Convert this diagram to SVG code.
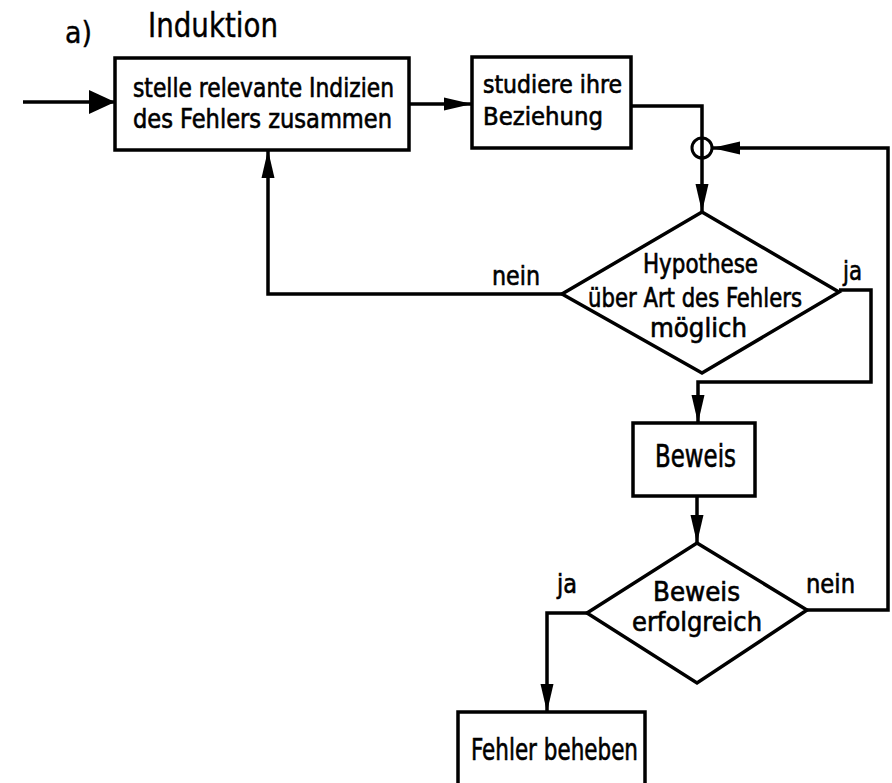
<svg xmlns="http://www.w3.org/2000/svg" width="892" height="783" viewBox="0 0 892 783">
  <style>
    .box { fill: #fff; stroke: #000; stroke-width: 3.5; }
    .wire { fill: none; stroke: #000; stroke-width: 3.5; stroke-linejoin: miter; }
    .t { font-family: "DejaVu Sans Condensed", "DejaVu Sans", sans-serif; font-size: 27px; fill: #000; stroke: #000; stroke-width: 0.6; }
    .h { font-family: "DejaVu Sans Condensed", "DejaVu Sans", sans-serif; font-size: 34px; fill: #000; stroke: #000; stroke-width: 0.4; }
    .s25 { font-size: 25px; }
    .s26 { font-size: 26px; }
    .s30 { font-size: 30px; }
    .s32 { font-size: 32px; }
  </style>
  <defs>
    <marker id="arrow" markerUnits="userSpaceOnUse" markerWidth="30" markerHeight="14" refX="28" refY="7" orient="auto">
      <path d="M0,0.5 L28,7 L0,13.5 z" fill="#000"/>
    </marker>
    <marker id="arrowBig" markerUnits="userSpaceOnUse" markerWidth="28" markerHeight="26" refX="26" refY="13" orient="auto">
      <path d="M0,1 L26,13 L0,25 z" fill="#000"/>
    </marker>
  </defs>

  <rect width="892" height="783" fill="#fff"/>

  <!-- heading -->
  <text class="h s30" x="65" y="43" textLength="27" lengthAdjust="spacingAndGlyphs">a)</text>
  <text class="h" x="148" y="37" textLength="130" lengthAdjust="spacingAndGlyphs">Induktion</text>

  <!-- connectors -->
  <g id="connectors">
    <line class="wire" x1="23" y1="102" x2="115" y2="102" stroke-width="5" marker-end="url(#arrowBig)"/>
    <line class="wire" x1="409" y1="104" x2="472" y2="104" marker-end="url(#arrow)"/>
    <polyline class="wire" points="631,106 702,106 702,212" marker-end="url(#arrow)"/>
    <circle cx="702" cy="148" r="10" fill="none" stroke="#000" stroke-width="3"/>
    <!-- nein: back to collecting clues -->
    <polyline class="wire" points="562,294 268,294 268,150" marker-end="url(#arrow)"/>
    <!-- ja: on to the proof -->
    <polyline class="wire" points="839,290 871,290 871,382 698,382 698,423" marker-end="url(#arrow)"/>
    <line class="wire" x1="697" y1="496" x2="697" y2="543" marker-end="url(#arrow)"/>
    <!-- nein: loop back to the junction -->
    <polyline class="wire" points="807,610 888,610 888,148 712,148" marker-end="url(#arrow)"/>
    <!-- ja: fix the fault -->
    <polyline class="wire" points="587,613 547,613 547,712" marker-end="url(#arrow)"/>
  </g>

  <g id="collect">
    <rect class="box" x="115" y="58" width="294" height="92"/>
    <text class="t" x="133" y="97" textLength="261" lengthAdjust="spacingAndGlyphs">stelle relevante Indizien</text>
    <text class="t" x="133" y="128" textLength="259" lengthAdjust="spacingAndGlyphs">des Fehlers zusammen</text>
  </g>

  <g id="study">
    <rect class="box" x="472" y="57" width="159" height="91"/>
    <text class="t s25" x="483" y="93" textLength="139" lengthAdjust="spacingAndGlyphs">studiere ihre</text>
    <text class="t s25" x="483" y="125" textLength="120" lengthAdjust="spacingAndGlyphs">Beziehung</text>
  </g>

  <g id="hypothesis">
    <polygon class="box" points="702,212 839,292 702,373 562,294"/>
    <text class="t s26" x="643" y="273" textLength="115" lengthAdjust="spacingAndGlyphs">Hypothese</text>
    <text class="t s26" x="588" y="307" textLength="214" lengthAdjust="spacingAndGlyphs">über Art des Fehlers</text>
    <text class="t s26" x="650" y="337" textLength="97" lengthAdjust="spacingAndGlyphs">möglich</text>
  </g>

  <g id="proof">
    <rect class="box" x="633" y="423" width="122" height="73"/>
    <text class="t s32" x="655" y="467" textLength="81" lengthAdjust="spacingAndGlyphs">Beweis</text>
  </g>

  <g id="success">
    <polygon class="box" points="697,543 807,610 697,683 587,613"/>
    <text class="t s26" x="653" y="601" textLength="87" lengthAdjust="spacingAndGlyphs">Beweis</text>
    <text class="t s26" x="632" y="631" textLength="130" lengthAdjust="spacingAndGlyphs">erfolgreich</text>
  </g>

  <g id="fix">
    <rect class="box" x="458" y="712" width="187" height="90"/>
    <text class="t s30" x="471" y="760" textLength="167" lengthAdjust="spacingAndGlyphs">Fehler beheben</text>
  </g>

  <!-- branch labels -->
  <g id="labels">
    <text class="t" x="492" y="285" textLength="48" lengthAdjust="spacingAndGlyphs">nein</text>
    <text class="t" x="843" y="280" textLength="19" lengthAdjust="spacingAndGlyphs">ja</text>
    <text class="t" x="557" y="593" textLength="20" lengthAdjust="spacingAndGlyphs">ja</text>
    <text class="t" x="806" y="593" textLength="49" lengthAdjust="spacingAndGlyphs">nein</text>
  </g>
</svg>
